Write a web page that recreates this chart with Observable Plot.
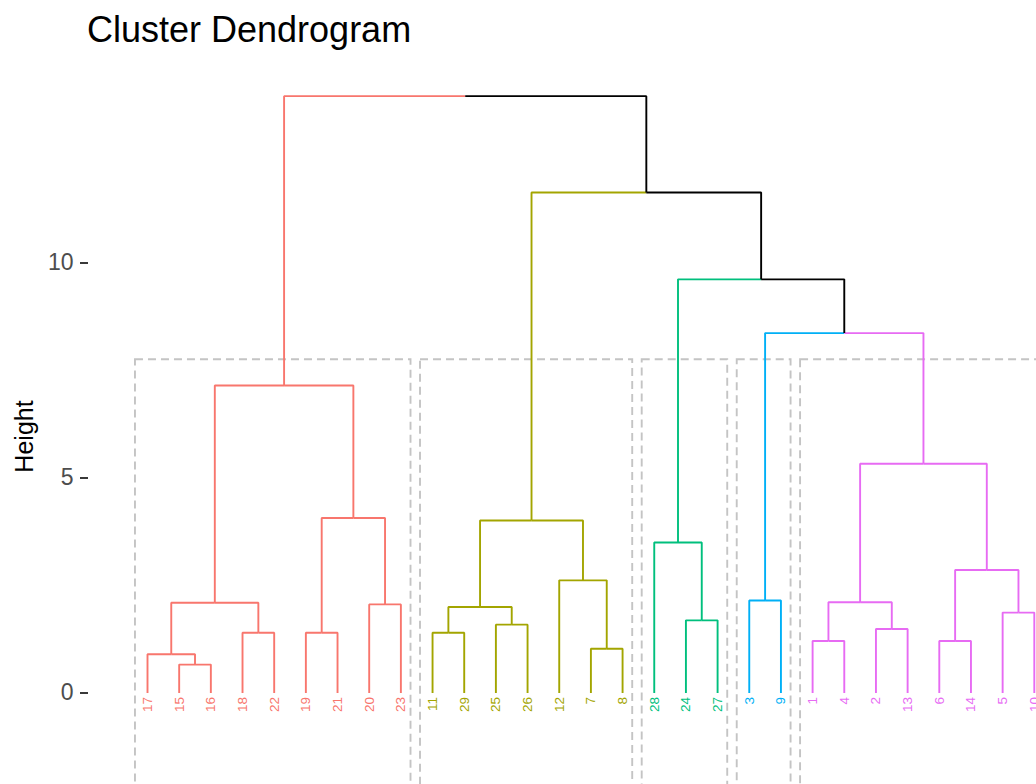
<!DOCTYPE html>
<html><head><meta charset="utf-8">
<script src="https://cdn.jsdelivr.net/npm/d3@7"></script>
<script src="https://cdn.jsdelivr.net/npm/@observablehq/plot@0.6"></script>
<style>
html,body{margin:0;padding:0;background:#fff;overflow:hidden;width:1036px;height:784px;}
#title{font-family:"Liberation Sans",Arial,sans-serif;font-size:36px;height:60px;line-height:60px;padding-left:87px;color:#000;white-space:nowrap;}
#chart{width:1100px;}
#chart svg{display:block;overflow:hidden;max-width:none !important;width:1100px !important;height:783px !important;}
</style></head><body>
<div id="title">Cluster Dendrogram</div>
<div id="chart"></div>
<script>
// Leaves in dendrogram order (left to right)
const leafOrder = [17,15,16,18,22,19,21,20,23,11,29,25,26,12,7,8,28,24,27,3,9,1,4,2,13,6,14,5,10];
// Number of consecutive leaves in each cluster (k = 5)
const clusterSizes = [9,7,3,2,8];
const clusterColors = ["#F8766D","#A3A500","#00BF7D","#00B0F6","#E76BF3"];
// hclust-style merges: negative = leaf label, positive = earlier merge (1-based)
const mergeA = [-15, -17, -18, 2, -19, -20, 5, 4, -11, -25, 9, -7, -12, 11, -24, -28, -3, -1, -2, 18, -6, -5, 21, 20, 17, 16, 14, 8];
const mergeB = [-16, 1, -22, 3, -21, -23, 6, 7, -29, -26, 10, -8, 12, 13, -27, 15, -9, -4, -13, 19, -14, -10, 22, 23, 24, 25, 26, 27];
const mergeHeight = [0.66, 0.90, 1.40, 2.10, 1.40, 2.06, 4.07, 7.15, 1.40, 1.59, 2.00, 1.03, 2.62, 4.01, 1.69, 3.50, 2.15, 1.21, 1.49, 2.11, 1.21, 1.87, 2.86, 5.33, 8.37, 9.62, 11.64, 13.88];
const yTicks = [0, 5, 10];
const rectTop = 7.75;
const rectBottom = -3.45;

// --- derived structures ---
const leafPos = new Map(leafOrder.map((l, i) => [l, i + 1]));
const leafCluster = new Map();
{
  let k = 0;
  clusterSizes.forEach((n, c) => { for (let j = 0; j < n; j++) leafCluster.set(leafOrder[k++], c); });
}
const nodes = [];
function info(v) {
  if (v < 0) return {x: leafPos.get(-v), h: 0, cluster: leafCluster.get(-v)};
  return nodes[v - 1];
}
const edges = [];
mergeA.forEach((a, i) => {
  const A = info(a), B = info(mergeB[i]);
  const node = {x: (A.x + B.x) / 2, h: mergeHeight[i], cluster: (A.cluster === B.cluster) ? A.cluster : -1};
  nodes.push(node);
  for (const c of [A, B]) {
    edges.push({x1: node.x, y1: node.h, x2: c.x, y2: c.h, color: c.cluster >= 0 ? clusterColors[c.cluster] : "#000000"});
  }
});
const leaves = leafOrder.map(l => ({label: String(l), x: leafPos.get(l), color: clusterColors[leafCluster.get(l)]}));
const rects = [];
{
  let start = 1;
  clusterSizes.forEach((n) => {
    rects.push({x1: start - 0.38, x2: start + n - 1 + 0.32, y1: rectBottom, y2: rectTop});
    start += n;
  });
}

const chart = Plot.plot({
  width: 1100,
  height: 783,
  marginLeft: 88,
  marginRight: 0,
  marginTop: 9,
  marginBottom: 0,
  style: {fontFamily: "'Liberation Sans', Arial, sans-serif", background: "#fff"},
  x: {domain: [-0.863, 31.09], axis: null},
  y: {domain: [-3.5, 14.5], axis: null},
  color: {type: "identity"},
  marks: [
    Plot.rect(rects, {x1: "x1", x2: "x2", y1: "y1", y2: "y2", fill: "none", stroke: "#C4C4C4", strokeWidth: 1.9, strokeDasharray: "8,5"}),
    Plot.link(edges, {x1: "x1", y1: "y1", x2: "x2", y2: "y2", curve: "step-after", stroke: d => d.color, strokeWidth: 1.9}),
    Plot.text(leaves, {x: "x", y: 0, text: "label", rotate: -90, textAnchor: "end", lineAnchor: "middle", dy: 4, fill: d => d.color, fontSize: 13.5}),
    Plot.axisY({ticks: yTicks, tickSize: 8, tickPadding: 7, color: "#4D4D4D", fontSize: 23, label: null}),
    Plot.axisY({ticks: yTicks, tickSize: 8, stroke: "#333333", strokeWidth: 1.9, tickFormat: () => "", label: null}),
    Plot.text(["Height"], {frameAnchor: "left", rotate: -90, dx: -64, dy: -20, fontSize: 25, fill: "#000", textAnchor: "middle", lineAnchor: "middle"})
  ]
});
document.getElementById("chart").appendChild(chart);
</script>
</body></html>
